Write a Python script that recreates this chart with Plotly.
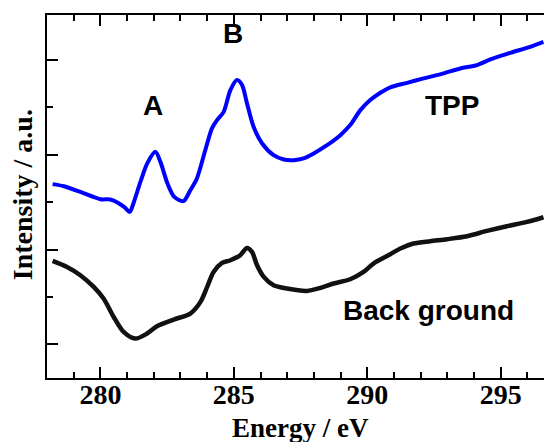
import plotly.graph_objects as go

# TPP spectrum (blue)
tpp_energy = [278.21, 278.63, 279.25, 280.00, 280.37, 280.67, 280.90, 281.10, 281.24, 281.50,
              281.76, 282.06, 282.25, 282.51, 282.77, 283.11, 283.37, 283.62, 283.93, 284.18,
              284.37, 284.62, 284.87, 285.12, 285.31, 285.49, 285.74, 286.06, 286.49, 286.87,
              287.24, 287.61, 287.99, 288.49, 288.99, 289.36, 289.74, 290.11, 290.49, 290.86,
              291.49, 292.11, 292.86, 293.48, 294.11, 294.61, 295.36, 296.10, 296.60]
tpp_intensity = [1.690, 1.668, 1.608, 1.531, 1.528, 1.492, 1.447, 1.397, 1.489, 1.714,
                 1.911, 2.031, 1.925, 1.700, 1.555, 1.510, 1.626, 1.753, 2.049, 2.278,
                 2.365, 2.453, 2.682, 2.788, 2.735, 2.545, 2.295, 2.119, 1.996, 1.950,
                 1.943, 1.961, 2.014, 2.101, 2.207, 2.313, 2.471, 2.577, 2.654, 2.711,
                 2.759, 2.806, 2.859, 2.911, 2.946, 3.006, 3.076, 3.139, 3.192]

# Background spectrum (black)
bg_energy = [278.21, 278.75, 279.25, 279.75, 280.12, 280.50, 280.87, 281.31, 281.75, 282.12,
             282.75, 283.37, 283.75, 284.00, 284.24, 284.56, 284.87, 285.24, 285.49, 285.68,
             285.87, 286.12, 286.49, 286.99, 287.74, 288.24, 288.74, 289.36, 289.86, 290.23,
             290.86, 291.24, 291.73, 292.36, 292.99, 293.73, 294.48, 295.23, 295.98, 296.60]
bg_intensity = [0.880, 0.816, 0.729, 0.605, 0.483, 0.288, 0.130, 0.060, 0.113, 0.190,
                0.261, 0.324, 0.447, 0.605, 0.763, 0.858, 0.887, 0.940, 1.017, 0.975,
                0.834, 0.711, 0.623, 0.588, 0.563, 0.595, 0.641, 0.686, 0.763, 0.852,
                0.950, 1.011, 1.063, 1.088, 1.109, 1.140, 1.196, 1.246, 1.291, 1.341]

x_ticks = [280, 285, 290, 295]
x_tick_labels = ["280", "285", "290", "295"]

label_text = ["A", "B", "TPP", "Back ground"]
label_x = [281.97, 284.98, 293.18, 292.30]
label_y = [2.524, 3.284, 2.515, 0.359]

serif = "Liberation Serif"
sans = "Liberation Sans"

fig = go.Figure()
fig.add_trace(go.Scatter(x=tpp_energy, y=tpp_intensity, mode="lines",
                         line=dict(color="#0000ff", width=4, shape="spline", smoothing=0.8),
                         showlegend=False))
fig.add_trace(go.Scatter(x=bg_energy, y=bg_intensity, mode="lines",
                         line=dict(color="#111111", width=4.5, shape="spline", smoothing=0.8),
                         showlegend=False))

for t, x, y in zip(label_text, label_x, label_y):
    fig.add_annotation(x=x, y=y, text="<b>%s</b>" % t, showarrow=False,
                       font=dict(family=sans, size=28, color="black"),
                       xanchor="center", yanchor="middle")

fig.add_annotation(xref="paper", yref="paper", x=0.51, y=-0.139,
                   text="<b>Energy / eV</b>", showarrow=False,
                   font=dict(family=serif, size=27, color="black"),
                   xanchor="center", yanchor="middle")
fig.add_annotation(xref="paper", yref="paper", x=-0.05, y=0.504,
                   text="<b>Intensity / a.u.</b>", showarrow=False, textangle=-90,
                   font=dict(family=serif, size=28, color="black"),
                   xanchor="center", yanchor="middle")

fig.update_xaxes(range=[278.0, 296.62], showline=True, linecolor="black", linewidth=1.5,
                 mirror="allticks", ticks="inside", ticklen=11, tickwidth=1.5, tickcolor="black",
                 tickvals=x_ticks, ticktext=["<b>%s</b>" % t for t in x_tick_labels],
                 tickfont=dict(family=serif, size=28, color="black"),
                 ticklabelstandoff=-9,
                 minor=dict(ticks="inside", dtick=1, ticklen=6, tickwidth=1.5, tickcolor="black"),
                 showgrid=False, zeroline=False)
fig.update_yaxes(range=[-0.356, 3.475], showline=True, linecolor="black", linewidth=1.5,
                 ticks="inside", ticklen=11, tickwidth=1.5, tickcolor="black",
                 tickvals=[0, 1, 2, 3], showticklabels=False,
                 minor=dict(ticks="inside", dtick=0.5, ticklen=6, tickwidth=1.5, tickcolor="black"),
                 showgrid=False, zeroline=False)

fig.update_layout(width=544, height=442, margin=dict(l=47, r=0, t=15, b=64),
                  plot_bgcolor="white", paper_bgcolor="white")

fig.write_html("out.html")
